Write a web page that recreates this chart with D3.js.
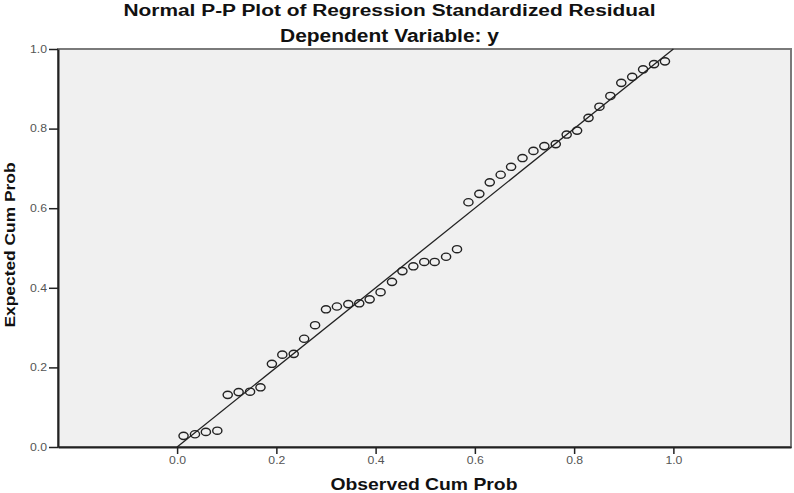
<!DOCTYPE html>
<html>
<head>
<meta charset="utf-8">
<script src="https://cdn.jsdelivr.net/npm/d3@7"></script>
<style>
  body { margin: 0; background: #fff; }
  text { font-family: "Liberation Sans", Arial, sans-serif; }
</style>
</head>
<body>
<script>
const w = 794;
const h = 493;
const margin = { left: 58, right: 3, top: 49, bottom: 46 };

// observed vs expected cumulative probability
const observed = [0.013, 0.036, 0.058, 0.081, 0.102, 0.124, 0.147, 0.168, 0.191, 0.212,
                  0.235, 0.256, 0.278, 0.300, 0.322, 0.345, 0.367, 0.388, 0.410, 0.433,
                  0.454, 0.476, 0.498, 0.519, 0.542, 0.564, 0.587, 0.609, 0.630, 0.652,
                  0.673, 0.696, 0.718, 0.740, 0.763, 0.785, 0.806, 0.829, 0.851, 0.873,
                  0.895, 0.917, 0.939, 0.961, 0.983];
const expected = [0.028, 0.032, 0.038, 0.041, 0.131, 0.138, 0.139, 0.150, 0.209, 0.232,
                  0.234, 0.272, 0.306, 0.346, 0.353, 0.359, 0.361, 0.371, 0.389, 0.415,
                  0.442, 0.454, 0.465, 0.465, 0.478, 0.497, 0.615, 0.636, 0.665, 0.684,
                  0.704, 0.726, 0.744, 0.756, 0.761, 0.785, 0.795, 0.827, 0.855, 0.882,
                  0.915, 0.930, 0.949, 0.962, 0.969];
const xTicks = [0, 0.2, 0.4, 0.6, 0.8, 1.0];
const yTicks = [0, 0.2, 0.4, 0.6, 0.8, 1.0];
const refLine = [0, 1];

const data = observed.map((d, i) => ({ obs: d, exp: expected[i] }));

const xScale = d3.scaleLinear()
    .domain([-0.24, 1.237])
    .range([margin.left, w - margin.right]);

const yScale = d3.scaleLinear()
    .domain([0, 1])
    .range([h - margin.bottom, margin.top]);

const svg = d3.select("body")
    .append("svg")
    .attr("width", w)
    .attr("height", h);

// plot background + frame
svg.append("rect")
    .attr("x", margin.left)
    .attr("y", margin.top)
    .attr("width", w - margin.left - margin.right)
    .attr("height", h - margin.top - margin.bottom)
    .attr("fill", "#f0f0f0")
    .attr("stroke", "#7a7a7a")
    .attr("stroke-width", 2);

const xAxis = d3.axisBottom(xScale)
    .tickValues(xTicks)
    .tickFormat(d3.format(".1f"))
    .tickSize(7)
    .tickSizeOuter(0);

const yAxis = d3.axisLeft(yScale)
    .tickValues(yTicks)
    .tickFormat(d3.format(".1f"))
    .tickSize(9)
    .tickSizeOuter(0);

const gx = svg.append("g")
    .attr("id", "x_axis")
    .attr("transform", `translate(0, ${h - margin.bottom})`)
    .call(xAxis);

const gy = svg.append("g")
    .attr("id", "y_axis")
    .attr("transform", `translate(${margin.left}, 0)`)
    .call(yAxis);

[gx, gy].forEach(g => {
    g.select(".domain").attr("stroke", "#222").attr("stroke-width", 2);
    g.selectAll(".tick line").attr("stroke", "#222").attr("stroke-width", 1.5);
    g.selectAll("text")
        .attr("fill", "#555")
        .attr("font-size", 10)
        .attr("textLength", 17)
        .attr("lengthAdjust", "spacingAndGlyphs");
});
gy.selectAll("text").attr("x", -11);

// reference diagonal
svg.append("line")
    .attr("x1", xScale(refLine[0]))
    .attr("y1", yScale(refLine[0]))
    .attr("x2", xScale(refLine[1]))
    .attr("y2", yScale(refLine[1]))
    .attr("stroke", "#222")
    .attr("stroke-width", 1.3);

svg.selectAll("ellipse")
    .data(data)
    .enter()
    .append("ellipse")
    .attr("cx", d => xScale(d.obs))
    .attr("cy", d => yScale(d.exp))
    .attr("rx", 4.6)
    .attr("ry", 3.6)
    .attr("fill", "none")
    .attr("stroke", "#222")
    .attr("stroke-width", 1.4);

// titles
svg.append("text")
    .attr("x", 389.5)
    .attr("y", 16)
    .attr("text-anchor", "middle")
    .attr("font-size", 16)
    .attr("font-weight", "bold")
    .attr("fill", "#111")
    .attr("textLength", 532)
    .attr("lengthAdjust", "spacingAndGlyphs")
    .text("Normal P-P Plot of Regression Standardized Residual");

svg.append("text")
    .attr("x", 389.5)
    .attr("y", 42)
    .attr("text-anchor", "middle")
    .attr("font-size", 18)
    .attr("font-weight", "bold")
    .attr("fill", "#111")
    .attr("textLength", 219)
    .attr("lengthAdjust", "spacingAndGlyphs")
    .text("Dependent Variable: y");

svg.append("text")
    .attr("x", 424)
    .attr("y", 490)
    .attr("text-anchor", "middle")
    .attr("font-size", 17)
    .attr("font-weight", "bold")
    .attr("fill", "#111")
    .attr("textLength", 187)
    .attr("lengthAdjust", "spacingAndGlyphs")
    .text("Observed Cum Prob");

svg.append("text")
    .attr("transform", "translate(15, 245) rotate(-90)")
    .attr("text-anchor", "middle")
    .attr("font-size", 15)
    .attr("font-weight", "bold")
    .attr("fill", "#111")
    .attr("textLength", 165)
    .attr("lengthAdjust", "spacingAndGlyphs")
    .text("Expected Cum Prob");
</script>
</body>
</html>
